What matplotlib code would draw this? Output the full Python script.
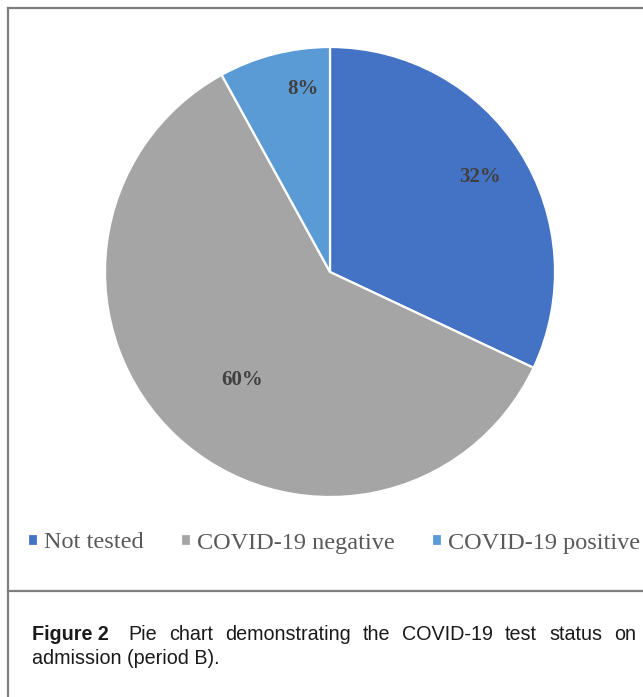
import numpy as np
import matplotlib.pyplot as plt
from matplotlib.lines import Line2D

# test status on admission, period B
labels = ['Not tested', 'COVID-19 negative', 'COVID-19 positive']
shares = [32, 60, 8]
colors = ['#4472C4', '#A5A5A5', '#5B9BD5']

caption_head = 'Figure 2'
caption_line1 = ['Pie', 'chart', 'demonstrating', 'the', 'COVID-19', 'test', 'status', 'on']
caption_line2 = 'admission (period B).'

W, H = 643, 697


def px(x, y):
    """pixel coords (from top-left) -> figure fraction"""
    return x / W, 1 - y / H


fig = plt.figure(figsize=(W / 100, H / 100), dpi=100)
fig.patch.set_facecolor('white')

# pie axes, square, centred on the chart area
cx, cy, r = 330, 272, 225
ax = fig.add_axes([(cx - r) / W, 1 - (cy + r) / H, 2 * r / W, 2 * r / H])
wedges, _ = ax.pie(shares, colors=colors, startangle=90, counterclock=False,
                   wedgeprops=dict(edgecolor='white', linewidth=1.6))
ax.set_xlim(-1, 1)
ax.set_ylim(-1, 1)
ax.set_aspect('equal')

# percentage labels inside the slices
label_radius = [0.79, 0.62, 0.82]
label_turn = [0, 4, -6]
for w, s, rr, dt in zip(wedges, shares, label_radius, label_turn):
    theta = np.deg2rad((w.theta1 + w.theta2) / 2 + dt)
    ax.text(rr * np.cos(theta), rr * np.sin(theta), f'{s}%',
            ha='center', va='center', fontsize=15, fontweight='bold',
            family='Liberation Serif', color='#404040')

leg = fig.legend(wedges, labels, loc='center', bbox_to_anchor=px(334, 543),
                 ncol=3, frameon=False, handlelength=0.4, handleheight=0.4,
                 handletextpad=0.25, columnspacing=1.55,
                 prop=dict(family='Liberation Serif', size=17.5))
for t in leg.get_texts():
    t.set_color('#595959')

# box lines: left edge, top edge, divider above the caption
line_kw = dict(color='#7f7f7f', linewidth=1.6, transform=fig.transFigure)
x0, y0 = px(8, 8)
x1, ydiv = px(643, 591)
fig.add_artist(Line2D([x0, x0], [y0, 0], **line_kw))
fig.add_artist(Line2D([x0, x1], [y0, y0], **line_kw))
fig.add_artist(Line2D([x0, x1], [ydiv, ydiv], **line_kw))

# caption, first line justified between the margins
cap_kw = dict(family='Liberation Sans', size=14.2, color='#1a1a1a', va='baseline')
left, right = 32, 636
base1, base2 = 640, 664
renderer = fig.canvas.get_renderer()
head = fig.text(*px(left, base1), caption_head, fontweight='bold', **cap_kw)
head_w = head.get_window_extent(renderer).width
words = [fig.text(0, 0, wd, **cap_kw) for wd in caption_line1]
widths = [t.get_window_extent(renderer).width for t in words]
gap = (right - left - head_w - sum(widths)) / (len(words) + 0.6)
x = left + head_w + 1.6 * gap
for t, wdt in zip(words, widths):
    t.set_position(px(x, base1))
    x += wdt + gap
fig.text(*px(left, base2), caption_line2, **cap_kw)

fig.savefig('out.png', dpi=100)
